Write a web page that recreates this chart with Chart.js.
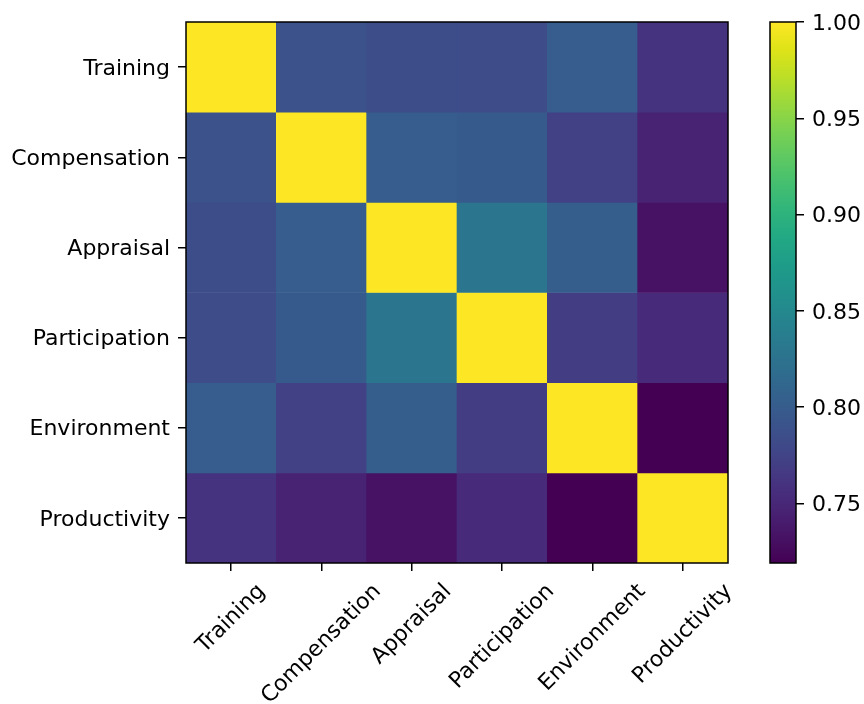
<!DOCTYPE html>
<html>
<head>
<meta charset="utf-8">
<script src="https://cdn.jsdelivr.net/npm/chart.js@4/dist/chart.umd.min.js"></script>
<style>
  html, body { margin: 0; padding: 0; background: #fff; }
  #wrap { position: relative; width: 864px; height: 704px; }
  #heat { position: absolute; left: 0; top: 0; }
  #cbar { position: absolute; left: 740px; top: 0; }
</style>
</head>
<body>
<div id="wrap">
  <canvas id="heat" width="864" height="704"></canvas>
  <canvas id="cbar" width="124" height="704"></canvas>
</div>
<script>
  // Correlation matrix (rows top to bottom)
  const labels = ['Training', 'Compensation', 'Appraisal', 'Participation', 'Environment', 'Productivity'];
  const trainingRow      = [1.000, 0.789, 0.784, 0.783, 0.801, 0.760];
  const compensationRow  = [0.789, 1.000, 0.801, 0.798, 0.773, 0.746];
  const appraisalRow     = [0.784, 0.801, 1.000, 0.828, 0.802, 0.732];
  const participationRow = [0.783, 0.798, 0.828, 1.000, 0.769, 0.753];
  const environmentRow   = [0.801, 0.773, 0.802, 0.769, 1.000, 0.719];
  const productivityRow  = [0.760, 0.746, 0.732, 0.753, 0.719, 1.000];
  const rows = [trainingRow, compensationRow, appraisalRow, participationRow, environmentRow, productivityRow];

  // Colour bar range and ticks
  const vmin = 0.719;
  const vmax = 1.0;
  const cbTicks = [0.75, 0.80, 0.85, 0.90, 0.95, 1.00];

  // viridis, sampled every 0.05
  const viridis = ['#440154', '#471365', '#482475', '#463480', '#414487', '#3b528b', '#355f8d',
    '#2f6c8e', '#2a788e', '#25848e', '#21918c', '#1e9c89', '#22a884', '#2fb47c', '#44bf70',
    '#5ec962', '#7ad151', '#9bd93c', '#bddf26', '#dfe318', '#fde725'];

  function hexToRgb(h) {
    return [parseInt(h.slice(1, 3), 16), parseInt(h.slice(3, 5), 16), parseInt(h.slice(5, 7), 16)];
  }

  function colorFor(v) {
    let t = (v - vmin) / (vmax - vmin);
    t = Math.max(0, Math.min(1, t));
    const pos = t * (viridis.length - 1);
    const i = Math.min(Math.floor(pos), viridis.length - 2);
    const f = pos - i;
    const a = hexToRgb(viridis[i]), b = hexToRgb(viridis[i + 1]);
    const c = a.map((x, k) => Math.round(x + (b[k] - x) * f));
    return 'rgb(' + c.join(',') + ')';
  }

  const FONT = { family: '"DejaVu Sans", sans-serif', size: 22 };
  Chart.defaults.color = '#000';
  Chart.defaults.font.family = FONT.family;
  Chart.defaults.font.size = FONT.size;

  // Box around the plot area
  const frame = {
    id: 'frame',
    afterDraw(chart) {
      const a = chart.chartArea, ctx = chart.ctx;
      ctx.save();
      ctx.strokeStyle = '#000';
      ctx.lineWidth = 1.5;
      ctx.strokeRect(a.left, a.top, a.right - a.left, a.bottom - a.top);
      ctx.restore();
    }
  };

  // Rotated x labels, centred on the tick like matplotlib
  const xLabels = {
    id: 'xLabels',
    afterDraw(chart) {
      const ctx = chart.ctx, sx = chart.scales.x;
      const y0 = chart.chartArea.bottom + 16;
      const h = FONT.size * 1.16;
      ctx.save();
      ctx.font = FONT.size + 'px ' + FONT.family;
      ctx.fillStyle = '#000';
      ctx.textAlign = 'center';
      ctx.textBaseline = 'middle';
      labels.forEach(function(lab, i) {
        const w = ctx.measureText(lab).width;
        const d = (w + h) * Math.SQRT1_2 / 2;
        ctx.save();
        ctx.translate(sx.getPixelForValue(i), y0 + d);
        ctx.rotate(-Math.PI / 4);
        ctx.fillText(lab, 0, 0);
        ctx.restore();
      });
      ctx.restore();
    }
  };

  const datasets = rows.map(function(row, r) {
    return {
      data: row.map(() => [r, r + 1]),
      backgroundColor: row.map(colorFor),
      borderWidth: 0,
      barPercentage: 1,
      categoryPercentage: 1,
      grouped: false
    };
  });

  new Chart(document.getElementById('heat'), {
    type: 'bar',
    data: { labels: labels, datasets: datasets },
    options: {
      responsive: false,
      animation: false,
      devicePixelRatio: 1,
      layout: { padding: { top: 22, right: 136, left: 0, bottom: 0 } },
      plugins: { legend: { display: false }, tooltip: { enabled: false } },
      scales: {
        x: {
          type: 'category',
          grid: { offset: false, drawOnChartArea: false, drawTicks: true, tickLength: 8, color: '#000', lineWidth: 1.5 },
          border: { display: false },
          ticks: { callback: () => '', minRotation: 0, maxRotation: 0, autoSkip: false },
          afterFit(scale) { scale.height = 704 - 563; }
        },
        y: {
          type: 'linear',
          min: 0,
          max: rows.length,
          reverse: true,
          grid: { drawOnChartArea: false, drawTicks: true, tickLength: 8, color: '#000', lineWidth: 1.5 },
          border: { display: false },
          afterBuildTicks(scale) {
            scale.ticks = labels.map((_, i) => ({ value: i + 0.5 }));
          },
          ticks: {
            padding: 8,
            labelOffset: 2,
            autoSkip: false,
            callback: (v) => labels[Math.floor(v)]
          },
          afterFit(scale) { scale.width = 186; }
        }
      }
    },
    plugins: [frame, xLabels]
  });

  // Colour bar
  new Chart(document.getElementById('cbar'), {
    type: 'bar',
    data: {
      labels: ['cb'],
      datasets: [{
        data: [[vmin, vmax]],
        barPercentage: 1,
        categoryPercentage: 1,
        borderWidth: 0,
        backgroundColor(ctx) {
          const a = ctx.chart.chartArea;
          if (!a) return viridis[0];
          const g = ctx.chart.ctx.createLinearGradient(0, a.bottom, 0, a.top);
          viridis.forEach((c, i) => g.addColorStop(i / (viridis.length - 1), c));
          return g;
        }
      }]
    },
    options: {
      responsive: false,
      animation: false,
      devicePixelRatio: 1,
      layout: { padding: { top: 22, left: 30, right: 0, bottom: 704 - 563 } },
      plugins: { legend: { display: false }, tooltip: { enabled: false } },
      scales: {
        x: { display: false },
        y: {
          position: 'right',
          min: vmin,
          max: vmax,
          grid: { drawOnChartArea: false, drawTicks: true, tickLength: 8, color: '#000', lineWidth: 1.5 },
          border: { display: false },
          afterBuildTicks(scale) {
            scale.ticks = cbTicks.map(v => ({ value: v }));
          },
          ticks: { padding: 8, labelOffset: 2, callback: (v) => v.toFixed(2) },
          afterFit(scale) { scale.width = 68; }
        }
      }
    },
    plugins: [frame]
  });
</script>
</body>
</html>
